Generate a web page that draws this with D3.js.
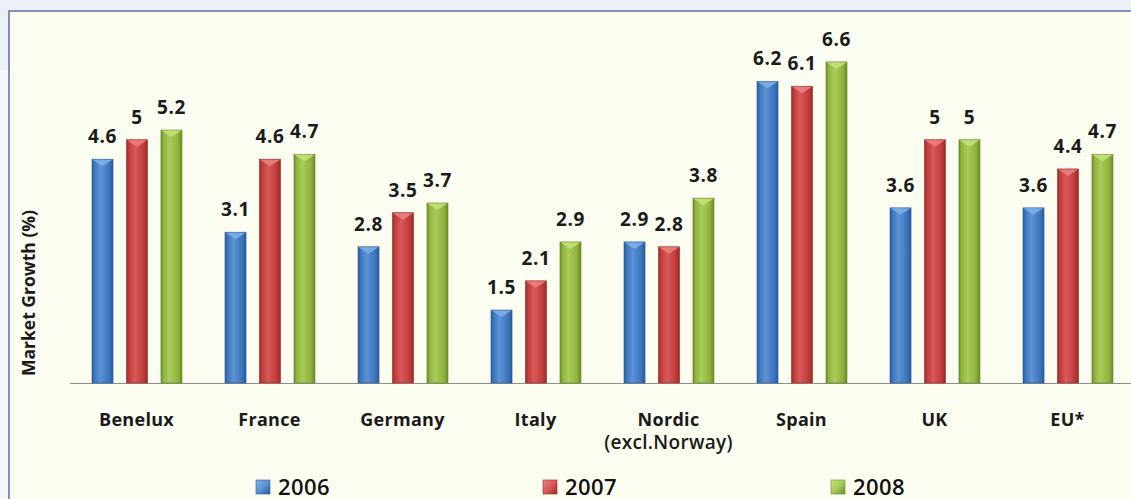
<!DOCTYPE html>
<html>
<head>
<meta charset="utf-8">
<script src="https://cdn.jsdelivr.net/npm/d3@7"></script>
<style>
  html, body { margin: 0; padding: 0; background: #eef0f7; }
  svg { display: block; }
</style>
</head>
<body>
<svg id="chart" width="1131" height="499"></svg>
<script>
const categories = ["Benelux", "France", "Germany", "Italy", "Nordic\n(excl.Norway)", "Spain", "UK", "EU*"];
const seriesNames = ["2006", "2007", "2008"];
const values2006 = [4.6, 3.1, 2.8, 1.5, 2.9, 6.2, 3.6, 3.6];
const values2007 = [5, 4.6, 3.5, 2.1, 2.8, 6.1, 5, 4.4];
const values2008 = [5.2, 4.7, 3.7, 2.9, 3.8, 6.6, 5, 4.7];
const yLabel = "Market Growth (%)";

const seriesValues = [values2006, values2007, values2008];
const palette = [
  { dark: "#2b5b98", mid: "#3d76bd", light: "#5b93d6", cap: "#7fb0e8" },
  { dark: "#982b2a", mid: "#c23c3b", light: "#d85a58", cap: "#ec8482" },
  { dark: "#6b8a2a", mid: "#8fb43d", light: "#a9cb58", cap: "#c6e27e" }
];

const svg = d3.select("#chart");
const W = 1131, H = 499;

// outer decorations
svg.append("rect").attr("x", 0).attr("y", 0).attr("width", W).attr("height", H).attr("fill", "#eef0f7");
svg.append("rect").attr("x", 0).attr("y", 70).attr("width", 9).attr("height", H - 70).attr("fill", "#f8f9fc");
// panel
svg.append("rect").attr("x", 9).attr("y", 11).attr("width", W + 10).attr("height", H)
  .attr("fill", "#fbfdf0").attr("stroke", "#6677a8").attr("stroke-width", 1.6);

const defs = svg.append("defs");
palette.forEach((p, i) => {
  const g = defs.append("linearGradient").attr("id", "grad" + i)
    .attr("x1", "0%").attr("x2", "100%").attr("y1", "0%").attr("y2", "0%");
  [[0, p.dark], [0.12, p.mid], [0.4, p.light], [0.8, p.mid], [1, p.dark]].forEach(([o, c]) =>
    g.append("stop").attr("offset", o).attr("stop-color", c));
  const gs = defs.append("linearGradient").attr("id", "lgrad" + i)
    .attr("x1", "0%").attr("x2", "100%").attr("y1", "0%").attr("y2", "100%");
  [[0, p.cap], [0.5, p.light], [1, p.dark]].forEach(([o, c]) =>
    gs.append("stop").attr("offset", o).attr("stop-color", c));
});

const baseY = 383;
const x = d3.scaleBand().domain(categories).range([70, 1134]).padding(0);
const xInner = d3.scaleBand().domain(seriesNames).range([22, 112]).paddingInner(0.39).paddingOuter(0);
const y = d3.scaleLinear().domain([0, 7]).range([baseY, baseY - 7 * 48.65]);

const fontBold = "'Open Sans', 'DejaVu Sans', sans-serif";

// axis line
const xAxis = d3.axisBottom(x).tickSize(0).tickFormat("");
const axG = svg.append("g").attr("transform", `translate(0,${baseY})`).call(xAxis);
axG.select(".domain").attr("stroke", "#8d8d8d").attr("stroke-width", 1.2)
  .attr("d", "M70,0.5H1131");

// bars
const groups = svg.append("g").selectAll("g").data(categories).join("g")
  .attr("transform", d => `translate(${x(d)},0)`);

groups.each(function (cat, ci) {
  const g = d3.select(this);
  seriesNames.forEach((s, si) => {
    const v = seriesValues[si][ci];
    const bx = xInner(s), bw = xInner.bandwidth();
    const top = y(v);
    g.append("rect").attr("x", bx).attr("y", top).attr("width", bw).attr("height", baseY - top)
      .attr("fill", `url(#grad${si})`).attr("stroke", palette[si].dark).attr("stroke-width", 0.6);
    g.append("path")
      .attr("d", `M${bx + 0.5},${top + 0.5}L${bx + bw - 0.5},${top + 0.5}L${bx + bw / 2},${top + 7}Z`)
      .attr("fill", palette[si].cap).attr("opacity", 0.85);
    g.append("text").attr("x", bx + bw / 2).attr("y", top - 16)
      .attr("text-anchor", "middle").attr("font-family", fontBold).attr("font-weight", 700)
      .attr("font-size", 19).attr("letter-spacing", 0.6).attr("fill", "#1a1a1a")
      .text(d3.format("~g")(v));
  });
  const lines = cat.split("\n");
  const t = g.append("text").attr("x", x.bandwidth() / 2).attr("y", 426)
    .attr("text-anchor", "middle").attr("font-family", fontBold)
    .attr("font-size", 18).attr("fill", "#1a1a1a");
  lines.forEach((l, li) => {
    t.append("tspan").attr("x", x.bandwidth() / 2).attr("dy", li === 0 ? 0 : 23)
      .attr("font-weight", li === 0 ? 700 : 600).attr("font-size", li === 0 ? 18 : 19)
      .attr("letter-spacing", 0.3).text(l);
  });
});

// y label
svg.append("text").attr("transform", "translate(35,293) rotate(-90)")
  .attr("text-anchor", "middle").attr("font-family", fontBold).attr("font-weight", 700)
  .attr("font-size", 17.5).attr("fill", "#1a1a1a").text(yLabel);

// legend
const legendX = [256, 543, 831];
seriesNames.forEach((s, i) => {
  const lg = svg.append("g").attr("transform", `translate(${legendX[i]},480)`);
  lg.append("rect").attr("width", 14).attr("height", 14).attr("fill", `url(#lgrad${i})`)
    .attr("stroke", palette[i].dark).attr("stroke-width", 0.6);
  lg.append("text").attr("x", 22).attr("y", 14.5).attr("font-family", fontBold)
    .attr("font-size", 22).attr("letter-spacing", 0.4).attr("font-weight", 600)
    .attr("fill", "#111").text(s);
});
</script>
</body>
</html>
